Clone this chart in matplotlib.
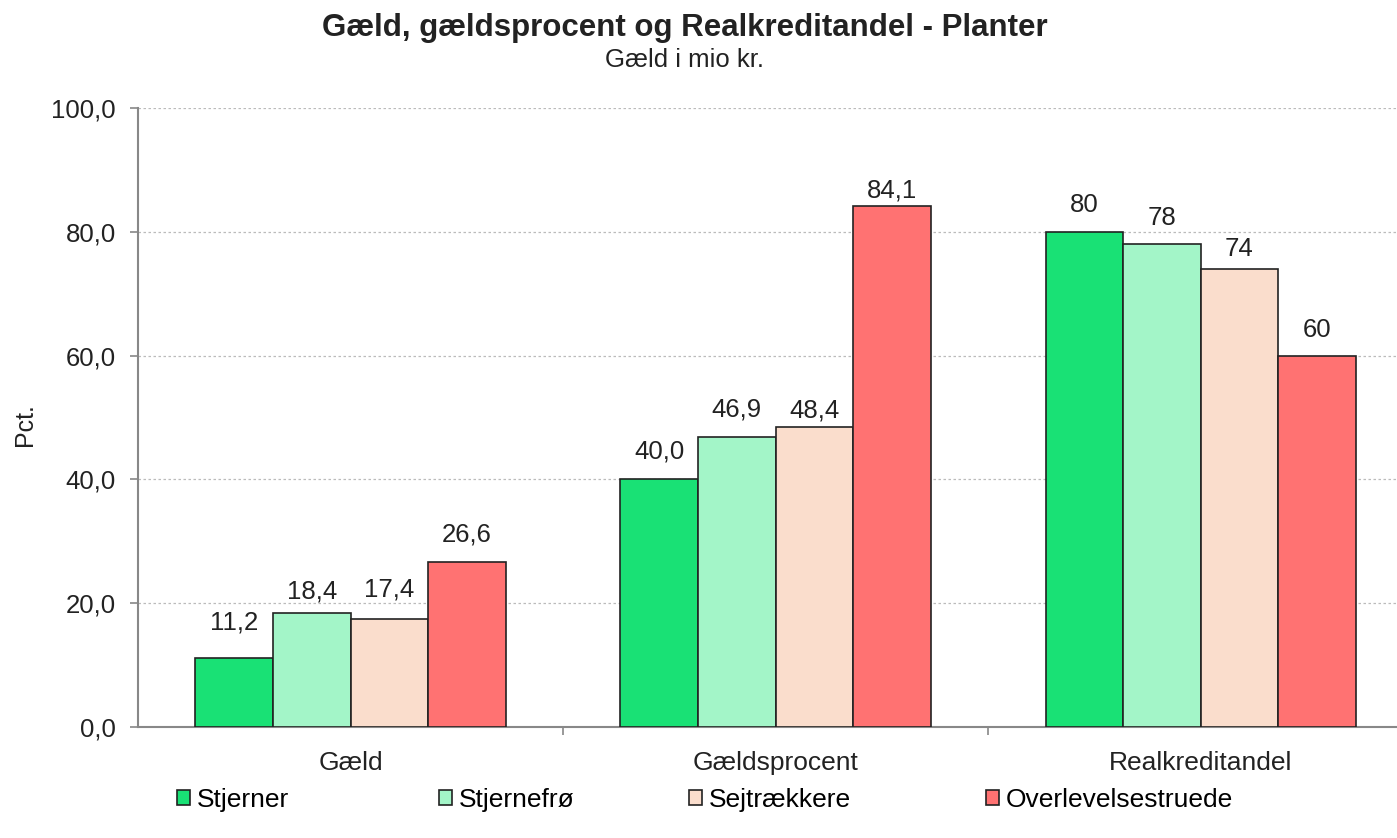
import numpy as np
import matplotlib.pyplot as plt
from matplotlib.patches import Patch

plt.rcParams['font.family'] = ['Liberation Sans', 'DejaVu Sans']

categories = ['Gæld', 'Gældsprocent', 'Realkreditandel']
series = ['Stjerner', 'Stjernefrø', 'Sejtrækkere', 'Overlevelsestruede']
colors = ['#19E175', '#A3F5C8', '#FADDCC', '#FF7272']
values = [
    [11.2, 40.0, 80],
    [18.4, 46.9, 78],
    [17.4, 48.4, 74],
    [26.6, 84.1, 60],
]
labels = [
    ['11,2', '40,0', '80'],
    ['18,4', '46,9', '78'],
    ['17,4', '48,4', '74'],
    ['26,6', '84,1', '60'],
]

# label offsets above bar tops (pixels), as the labels sit in the original
label_dy = [
    [35, 28, 27],
    [22, 27, 26],
    [30, 17, 20],
    [28, 16, 26],
]

fig = plt.figure(figsize=(13.97, 8.38), dpi=100)
ax = fig.add_axes([0.0988, 0.1325, 0.9127, 0.7387])

x = np.arange(len(categories))
w = 0.1824
for i, s in enumerate(series):
    pos = x + (i - 1.5) * w
    bars = ax.bar(pos, values[i], w, color=colors[i], edgecolor='#222222', linewidth=1.2, label=s, zorder=3)
    for j, (b, lab) in enumerate(zip(bars, labels[i])):
        ax.annotate(lab, (b.get_x() + b.get_width() / 2, b.get_height()),
                    xytext=(0, label_dy[i][j] * 0.72), textcoords='offset points',
                    ha='center', va='center', fontsize=18.5, color='#222222')

ax.set_xlim(-0.5, 2.5)
ax.set_ylim(0, 100)
yt = np.arange(0, 101, 20)
ax.set_yticks(yt)
ax.set_yticklabels([f'{v:.1f}'.replace('.', ',') for v in yt], fontsize=18.5, color='#222222')
ax.set_xticks(x)
ax.set_xticklabels(categories, fontsize=19, color='#222222')
ax.tick_params(axis='x', length=0, pad=17)
ax.set_xticks([0.5, 1.5], minor=True)
ax.tick_params(axis='x', which='minor', length=6, color='#888888', width=1.2)
ax.tick_params(axis='y', length=6, color='#888888', width=1.2, pad=10)
ax.yaxis.grid(True, linestyle=(0, (2, 2)), color='#BBBBBB', linewidth=0.9, zorder=0)
for sp in ['top', 'right']:
    ax.spines[sp].set_visible(False)
for sp in ['left', 'bottom']:
    ax.spines[sp].set_color('#888888')
    ax.spines[sp].set_linewidth(1.5)
ax.set_ylabel('Pct.', fontsize=18, color='#222222')
ax.yaxis.set_label_coords(-0.079, 0.488)

fig.text(0.49, 0.967, 'Gæld, gældsprocent og Realkreditandel - Planter', ha='center', va='center',
         fontsize=22.5, fontweight='bold', color='#222222')
fig.text(0.49, 0.928, 'Gæld i mio kr.', ha='center', va='center', fontsize=18.5, color='#222222')

legend_x = [0.1265, 0.314, 0.493, 0.7055]
for c, s, lx in zip(colors, series, legend_x):
    h = Patch(facecolor=c, edgecolor='#222222', linewidth=1.2)
    fig.legend([h], [s], loc='center left', bbox_to_anchor=(lx, 0.045), frameon=False,
               fontsize=19, handlelength=0.5, handleheight=0.5, handletextpad=0.25,
               borderaxespad=0, borderpad=0)

fig.savefig('out.png', dpi=100)
